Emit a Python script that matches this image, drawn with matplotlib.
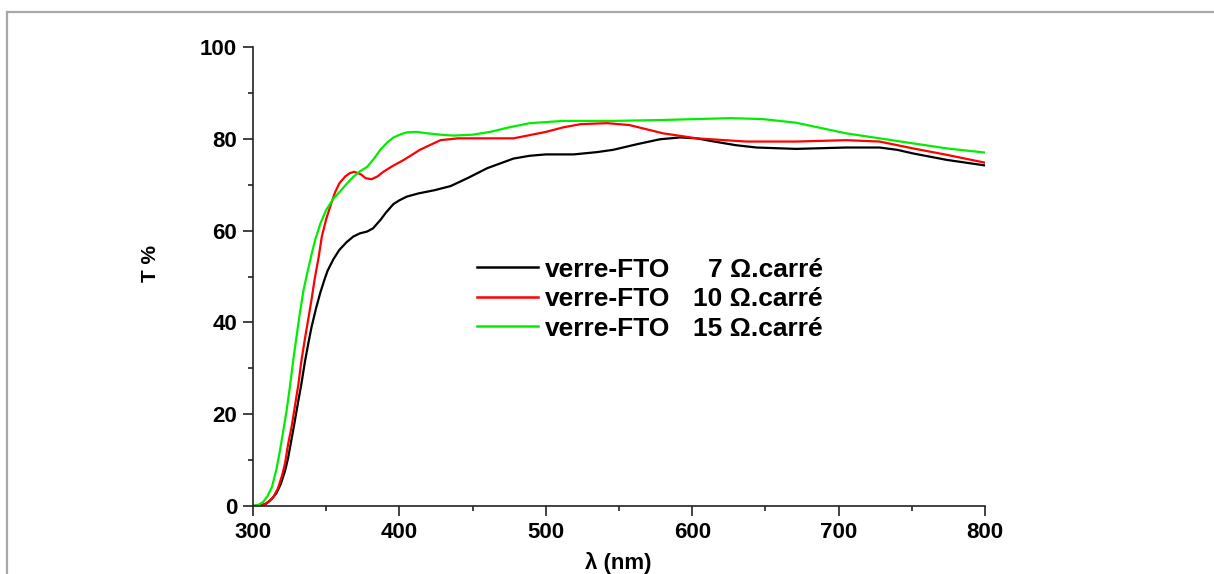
import matplotlib
matplotlib.use("Agg")
import matplotlib.pyplot as plt
from matplotlib.lines import Line2D
from matplotlib.ticker import MultipleLocator

plt.rcParams['font.family'] = ['Liberation Sans', 'DejaVu Sans']
plt.rcParams['font.weight'] = 'bold'

# ---- data ----
wl_7 = [300, 305, 309, 313, 316, 319, 322, 324, 326, 328, 331, 333, 335.5, 338, 340, 343, 346, 349,
        351, 355, 359, 364, 368.5, 373, 378, 382, 387, 391, 396, 400, 405, 413, 424, 435, 447, 460,
        478, 489, 500, 519, 535, 546, 562, 578, 592, 603, 615, 630, 644, 671, 705, 728, 740, 751,
        774, 800]
T_7 = [0.0, 0.1, 0.5, 1.6, 2.8, 4.8, 7.8, 10.5, 14.0, 17.5, 23.0, 26.5, 31.5, 35.8, 39.0, 43.0, 46.5, 49.5,
       51.3, 53.8, 55.8, 57.5, 58.7, 59.4, 59.8, 60.5, 62.3, 64.0, 65.8, 66.6, 67.4, 68.1, 68.8, 69.7, 71.5, 73.6,
       75.7, 76.3, 76.6, 76.6, 77.1, 77.6, 78.8, 79.9, 80.3, 80.1, 79.4, 78.6, 78.1, 77.8, 78.1, 78.1, 77.6, 76.8,
       75.4, 74.2]

wl_10 = [300, 304, 307, 311, 314, 317, 320, 322, 324, 326.5, 329, 331, 333, 335.5, 338, 340, 342, 345,
         347, 350, 353, 356, 359, 363, 366, 369, 371, 374, 377, 381, 385, 389, 395, 403, 414, 428,
         440, 462, 478, 500, 512, 524, 542, 557, 580, 603, 637, 671, 705, 728, 751, 774, 800]
T_10 = [0.0, 0.0, 0.2, 1.0, 2.0, 3.8, 6.8, 9.5, 13.5, 17.5, 22.5, 26.5, 31.5, 36.5, 41.2, 45.0, 49.2, 54.5,
        58.7, 62.5, 65.5, 68.3, 70.3, 71.8, 72.5, 72.8, 72.6, 72.2, 71.4, 71.2, 71.8, 72.8, 74.0, 75.4, 77.6, 79.7,
        80.1, 80.1, 80.1, 81.5, 82.5, 83.2, 83.4, 83.0, 81.2, 80.1, 79.4, 79.4, 79.7, 79.4, 77.9, 76.5, 74.8]

wl_15 = [300, 304, 307, 310, 313, 316, 318.5, 321, 323, 325, 327.5, 330, 332, 334.5, 337, 340, 342.5,
         346, 350, 355, 359.4, 364, 368.5, 373, 378, 382, 387, 392, 396, 401, 405, 412, 419, 428,
         437, 450, 462, 475, 489, 512, 546, 580, 626, 648, 671, 705, 728, 751, 774, 800]
T_15 = [0.0, 0.3, 0.9, 2.2, 4.2, 8.0, 12.2, 17.0, 20.9, 25.5, 31.8, 37.5, 42.0, 47.0, 50.7, 54.8, 58.0,
        61.5, 64.5, 67.0, 68.5, 70.2, 71.7, 72.9, 73.9, 75.4, 77.6, 79.3, 80.3, 81.0, 81.4, 81.5, 81.2, 80.9,
        80.7, 80.9, 81.5, 82.5, 83.4, 83.9, 83.9, 84.1, 84.5, 84.3, 83.5, 81.2, 80.1, 79.0, 77.9, 77.0]

series_labels = ["verre-FTO", "verre-FTO", "verre-FTO"]
series_res = ["7 Ω.carré", "10 Ω.carré", "15 Ω.carré"]
series_colors = ["#000000", "#ff0000", "#00ee00"]

x_ticks = [300, 400, 500, 600, 700, 800]
y_ticks = [0, 20, 40, 60, 80, 100]

# ---- figure ----
W, H = 1214, 574
fig = plt.figure(figsize=(W / 100, H / 100), dpi=100)
fig.patch.set_facecolor("white")

def fx(px):
    return px / W

def fy(py):
    return 1 - py / H

ax = fig.add_axes([fx(253), fy(506), fx(985) - fx(253), fy(47) - fy(506)])

lines = []
for wl, T, c in zip([wl_7, wl_10, wl_15], [T_7, T_10, T_15], series_colors):
    ln, = ax.plot(wl, T, color=c, lw=1.6, solid_joinstyle='round')
    lines.append(ln)

ax.set_xlim(300, 800)
ax.set_ylim(0, 100)
ax.set_xticks(x_ticks)
ax.set_yticks(y_ticks)
ax.xaxis.set_minor_locator(MultipleLocator(50))
ax.yaxis.set_minor_locator(MultipleLocator(10))
for s in ["top", "right"]:
    ax.spines[s].set_visible(False)
for s in ["left", "bottom"]:
    ax.spines[s].set_linewidth(1.2)
    ax.spines[s].set_color("#222222")
ax.tick_params(which="major", direction="out", length=7.5, width=1.2, color="#222222",
               labelsize=16, pad=4)
ax.tick_params(which="minor", direction="out", length=3.8, width=1.2, color="#222222")
for lab in ax.get_xticklabels() + ax.get_yticklabels():
    lab.set_fontweight("bold")
ax.patch.set_alpha(0)

fig.text(fx(150), fy(264), "T %", rotation=90, ha="center", va="center",
         fontsize=15, fontweight="bold")
fig.text(fx(618), fy(563), "λ (nm)", ha="center", va="center",
         fontsize=16, fontweight="bold")

# ---- legend (manual) ----
rows_y = [267, 297, 326]
for ln, lab, res, yy in zip(lines, series_labels, series_res, rows_y):
    fig.add_artist(Line2D([fx(477), fx(538)], [fy(yy), fy(yy)], color=ln.get_color(), lw=1.8))
    fig.text(fx(545), fy(yy), lab, ha="left", va="center_baseline", fontsize=19, fontweight="bold")
    fig.text(fx(823), fy(yy), res, ha="right", va="center_baseline", fontsize=19, fontweight="bold")

# ---- outer frame (top and left grey border) ----
fig.add_artist(Line2D([fx(7), 1.0], [fy(11.5), fy(11.5)], color="#a8a8a8", lw=1.6))
fig.add_artist(Line2D([fx(7), fx(7)], [fy(11.5), 0.0], color="#a8a8a8", lw=1.6))

fig.savefig("out.png", dpi=100)
